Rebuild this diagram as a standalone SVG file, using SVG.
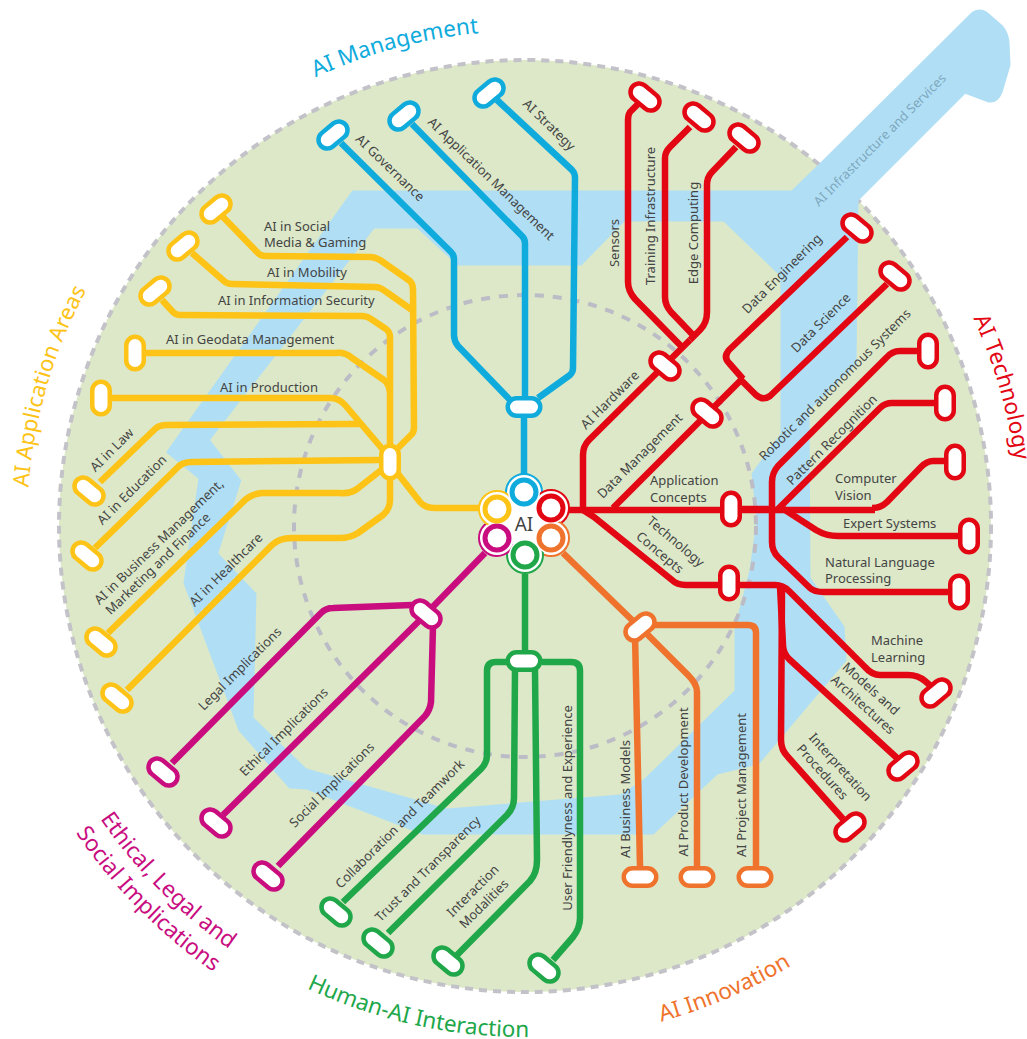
<svg xmlns="http://www.w3.org/2000/svg" width="1027" height="1039" viewBox="0 0 1027 1039">
<style>
.c{fill:none;stroke-width:6.5;stroke-linejoin:round;stroke-linecap:butt}
.cap{fill:#fff;stroke-width:4.5}
.ring{fill:#fff;stroke-width:5}
.outer{fill:#fff;stroke-width:2}
.bl{stroke:#10abdd}.re{stroke:#e30613}.ye{stroke:#fdc316}.or{stroke:#ef732c}.gr{stroke:#20a74a}.ma{stroke:#c90d7f}
text{font-family:"Noto Sans","Open Sans","Liberation Sans",sans-serif;font-size:13px;fill:#444;text-anchor:middle}
.l{text-anchor:start}
.t{font-size:22.5px}
</style>
<defs>
<rect id="cap" x="-16.25" y="-8.75" width="32.5" height="17.5" rx="8.75"/>
<path id="arc-app" d="M68.8 725.8A498 498 0 0 1 249 111.5"/>
<path id="arc-man" d="M118.6 243.4A495 495 0 0 1 732.7 76.6"/>
<path id="arc-tec" d="M799.5 115.2A494 494 0 0 1 977.2 724.9"/>
<path id="arc-inn" d="M377.3 1018.3A514 514 0 0 0 984.2 757"/>
<path id="arc-hum" d="M120.1 837.8A511 511 0 0 0 761.7 978.8"/>
<path id="arc-eth1" d="M10.8 569.2A516 516 0 0 0 478.2 1039.9"/>
<path id="arc-eth2" d="M-17.2 570.6A544 544 0 0 0 474.7 1067.7"/>
</defs>
<g id="background">
<circle cx="525" cy="526" r="466" fill="#dce8c8" stroke="#c2c2c8" stroke-width="4" stroke-dasharray="8 6"/>
<path d="M820 165L973 13Q980 9 986 13L1002 27Q1007 33 1008 42L1009 65L1001 92Q997 102 989 101L965 92L857 200L855 363L808 410L809 578L843 627L845 660L758 763L717 773L653 833L423 833L307 788L290 787L240 730L185 583L200 478L168 452L353 192L792 192Z" fill="#b0dff5" stroke="#b0dff5" stroke-width="3" stroke-linejoin="round"/>
<path d="M723 223L779 277L779 433L750 473L755 520L748 570L733 628L733 690L643 778L620 793L447 807L307 767L255 717L258 593L220 553L243 480L212 440L375 230L417 230L457 267L582 267L625 223Z" fill="#dce8c8" stroke="#dce8c8" stroke-width="3" stroke-linejoin="round"/>
<circle cx="525" cy="526" r="231" fill="none" stroke="#bcbcc6" stroke-width="4" stroke-dasharray="9 9"/>
</g>
<g id="connectors">
<g class="bl">
<path class="c" d="M524 407V480"/>
<path class="c" d="M497 100L572 170Q575 173 575 178L573 368Q573 372 570 375L538 398"/>
<path class="c" d="M412 124L522 236Q525 239 525 243V400"/>
<path class="c" d="M341 143L451 252Q454 255 454 259V335Q454 341 458 346L512 402"/>
</g>
<g class="ye">
<path class="c" d="M223 217L257 252Q260 256 266 256L370 257Q375 257 380 260L410 281Q413 284 413 290L414 428Q414 433 410 436L396 450"/>
<path class="c" d="M192 253L224 281Q227 284 232 284L375 287Q380 287 385 291L412 310"/>
<path class="c" d="M162 300L173 312Q176 315 180 315L362 316Q367 316 371 319L386 329Q390 332 390 337V450"/>
<path class="c" d="M145 353H336Q345 352 352 358L384 380Q389 384 390 392"/>
<path class="c" d="M110 398H330Q339 398 345 405L385 452"/>
<path class="c" d="M100 482L155 429Q159 425 167 425L355 424L360 424"/>
<path class="c" d="M95 548L177 468Q182 462 192 462L380 460"/>
<path class="c" d="M108 633L243 502Q250 494 262 493L340 493Q350 494 357 489L385 467"/>
<path class="c" d="M127 690L272 545Q279 538 292 538H340Q350 538 358 533L383 515Q390 509 390 500V470"/>
<path class="c" d="M395 470L420 502Q425 508 435 508H482"/>
</g>
<g class="re">
<path class="c" d="M569 510H875"/>
<path class="c" d="M731 509H772" stroke-width="8"/>
<path class="c" d="M583 508V455Q583 446 589 440L690 340"/>
<path class="c" d="M690 340L700 330Q707 323 707 312V185Q707 177 712 172L736 147"/>
<path class="c" d="M693 335L671 312Q665 305 665 297V158Q665 152 670 147L690 127"/>
<path class="c" d="M682 347L635 299Q628 291 628 282V120Q628 113 632 110L638 104"/>
<path class="c" d="M613 508L741 380"/>
<path class="c" d="M847 237L729 350Q723 357 729 363L743 379"/>
<path class="c" d="M887 284L770 396Q763 401 756 395L740 379"/>
<path class="c" d="M918 351H900Q892 351 886 358L778 466Q772 473 772 482V542Q772 551 778 557L810 588Q814 592 824 592H948"/>
<path class="c" d="M935 403H892Q885 403 880 408L777 510"/>
<path class="c" d="M945 461H933Q927 461 921 467L887 502Q881 508 872 508"/>
<path class="c" d="M958 536H838Q826 536 816 530L782 508"/>
<path class="c" d="M583 510L594 517L672 580Q677 585 686 585H775Q783 585 789 591L865 667Q872 675 880 675H908Q918 675 925 681L932 687"/>
<path class="c" d="M780 586L783 645Q783 653 789 659L897 758"/>
<path class="c" d="M782 590L781 740Q781 750 788 757L843 819"/>
</g>
<g class="or">
<path class="c" d="M563 553L632 620"/>
<path class="c" d="M648 625H748Q756 625 756 633V866"/>
<path class="c" d="M645 632L688 675Q697 684 697 692V866"/>
<path class="c" d="M635 635L640 866"/>
</g>
<g class="gr">
<path class="c" d="M525 574V652"/>
<path class="c" d="M510 662H496Q487 662 487 671V755Q487 763 481 769L343 902"/>
<path class="c" d="M515 670L514 798Q514 808 507 815L388 933"/>
<path class="c" d="M535 670L537 860Q537 873 530 881L457 955"/>
<path class="c" d="M542 662H571Q580 662 580 671V918Q580 928 573 937L553 960"/>
</g>
<g class="ma">
<path class="c" d="M485 553L420 620"/>
<path class="c" d="M412 605L333 608Q326 608 321 613L172 763"/>
<path class="c" d="M420 620L223 815"/>
<path class="c" d="M433 626L431 702Q430 710 425 716L278 866"/>
</g>
</g>
<g id="node-ai">
<circle class="outer bl" cx="524" cy="492" r="18"/><circle class="outer re" cx="551" cy="508" r="18"/><circle class="outer or" cx="551" cy="538" r="18"/><circle class="outer gr" cx="525" cy="555" r="18"/><circle class="outer ma" cx="497" cy="538" r="18"/><circle class="outer ye" cx="497" cy="509" r="18"/>
<circle cx="524" cy="492" r="16" fill="#fff"/><circle cx="551" cy="508" r="16" fill="#fff"/><circle cx="551" cy="538" r="16" fill="#fff"/><circle cx="525" cy="555" r="16" fill="#fff"/><circle cx="497" cy="538" r="16" fill="#fff"/><circle cx="497" cy="509" r="16" fill="#fff"/><circle cx="524" cy="523" r="24" fill="#fff"/>
<circle class="ring bl" cx="524" cy="492" r="12"/><circle class="ring re" cx="551" cy="508" r="12"/><circle class="ring or" cx="551" cy="538" r="12"/><circle class="ring gr" cx="525" cy="555" r="12"/><circle class="ring ma" cx="497" cy="538" r="12"/><circle class="ring ye" cx="497" cy="509" r="12"/>
<text x="524" y="531" style="font-size:19px">AI</text>
</g>
<g id="node-management-hub"><use href="#cap" class="cap bl" transform="translate(524 407)"/></g>
<g id="node-ai-strategy"><use href="#cap" class="cap bl" transform="translate(489 93) rotate(-40)"/><text transform="translate(546 128) rotate(44)">AI Strategy</text></g>
<g id="node-ai-application-management"><use href="#cap" class="cap bl" transform="translate(404 116) rotate(-40)"/><text transform="translate(488 182) rotate(44)">AI Application Management</text></g>
<g id="node-ai-governance"><use href="#cap" class="cap bl" transform="translate(333 135) rotate(-40)"/><text transform="translate(387 171) rotate(44)">AI Governance</text></g>
<g id="node-application-hub"><use href="#cap" class="cap ye" transform="translate(390 462) rotate(90)"/></g>
<g id="node-social"><use href="#cap" class="cap ye" transform="translate(216 209) rotate(-40)"/><text class="l" x="264" y="231">AI in Social</text><text class="l" x="264" y="247">Media &amp; Gaming</text></g>
<g id="node-mobility"><use href="#cap" class="cap ye" transform="translate(183 246) rotate(-40)"/><text class="l" x="267" y="277">AI in Mobility</text></g>
<g id="node-infosec"><use href="#cap" class="cap ye" transform="translate(155 291) rotate(-40)"/><text class="l" x="218" y="305">AI in Information Security</text></g>
<g id="node-geodata"><use href="#cap" class="cap ye" transform="translate(135 353) rotate(90)"/><text class="l" x="166" y="344">AI in Geodata Management</text></g>
<g id="node-production"><use href="#cap" class="cap ye" transform="translate(101 398) rotate(90)"/><text class="l" x="220" y="392">AI in Production</text></g>
<g id="node-law"><use href="#cap" class="cap ye" transform="translate(89 491) rotate(40)"/><text transform="translate(115 453) rotate(-45)">AI in Law</text></g>
<g id="node-education"><use href="#cap" class="cap ye" transform="translate(87 556) rotate(40)"/><text transform="translate(135 493) rotate(-45)">AI in Education</text></g>
<g id="node-business"><use href="#cap" class="cap ye" transform="translate(101 642) rotate(40)"/><text transform="translate(162 545) rotate(-44)">AI in Business Management,</text><text transform="translate(161 567) rotate(-44)">Marketing and Finance</text></g>
<g id="node-healthcare"><use href="#cap" class="cap ye" transform="translate(117 698) rotate(40)"/><text transform="translate(229 573) rotate(-45)">AI in Healthcare</text></g>
<g id="node-hardware"><use href="#cap" class="cap re" transform="translate(665 366) rotate(40)"/><text transform="translate(613 403) rotate(-45)">AI Hardware</text></g>
<g id="node-sensors"><use href="#cap" class="cap re" transform="translate(645 97) rotate(40)"/><text transform="translate(619 243) rotate(-90)">Sensors</text></g>
<g id="node-training"><use href="#cap" class="cap re" transform="translate(699 117) rotate(40)"/><text transform="translate(655 216) rotate(-90)">Training Infrastructure</text></g>
<g id="node-edge"><use href="#cap" class="cap re" transform="translate(744 138) rotate(40)"/><text transform="translate(698 233) rotate(-90)">Edge Computing</text></g>
<g id="node-data-management"><use href="#cap" class="cap re" transform="translate(707 413) rotate(40)"/><text transform="translate(643 459) rotate(-45)">Data Management</text></g>
<g id="node-data-engineering"><use href="#cap" class="cap re" transform="translate(857 228) rotate(40)"/><text transform="translate(785 277) rotate(-45)">Data Engineering</text></g>
<g id="node-data-science"><use href="#cap" class="cap re" transform="translate(895 276) rotate(40)"/><text transform="translate(824 326) rotate(-45)">Data Science</text></g>
<g id="node-robotic"><use href="#cap" class="cap re" transform="translate(928 351) rotate(90)"/><text transform="translate(838 388) rotate(-45)">Robotic and autonomous Systems</text></g>
<g id="node-pattern"><use href="#cap" class="cap re" transform="translate(945 403) rotate(90)"/><text transform="translate(835 443) rotate(-45)">Pattern Recognition</text></g>
<g id="node-application-concepts"><use href="#cap" class="cap re" transform="translate(731 509) rotate(90)"/><text class="l" x="650" y="485">Application</text><text class="l" x="650" y="502">Concepts</text></g>
<g id="node-vision"><use href="#cap" class="cap re" transform="translate(955 462) rotate(90)"/><text class="l" x="835" y="483">Computer</text><text class="l" x="835" y="500">Vision</text></g>
<g id="node-expert"><use href="#cap" class="cap re" transform="translate(969 536) rotate(90)"/><text class="l" x="843" y="528">Expert Systems</text></g>
<g id="node-nlp"><use href="#cap" class="cap re" transform="translate(959 592) rotate(90)"/><text class="l" x="825" y="567">Natural Language</text><text class="l" x="825" y="583">Processing</text></g>
<g id="node-technology-concepts"><use href="#cap" class="cap re" transform="translate(729 583) rotate(90)"/><text transform="translate(673 545) rotate(40)">Technology</text><text transform="translate(657 556) rotate(40)">Concepts</text></g>
<g id="node-ml"><use href="#cap" class="cap re" transform="translate(936 693) rotate(-40)"/><text class="l" x="871" y="645">Machine</text><text class="l" x="871" y="662">Learning</text></g>
<g id="node-models"><use href="#cap" class="cap re" transform="translate(903 766) rotate(-40)"/><text transform="translate(868 692) rotate(42)">Models and</text><text transform="translate(860 708) rotate(42)">Architectures</text></g>
<g id="node-interpretation"><use href="#cap" class="cap re" transform="translate(850 827) rotate(-40)"/><text transform="translate(837 770) rotate(48)">Interpretation</text><text transform="translate(819 775) rotate(48)">Procedures</text></g>
<g id="node-innovation-hub"><use href="#cap" class="cap or" transform="translate(640 627) rotate(-40)"/></g>
<g id="node-business-models"><use href="#cap" class="cap or" transform="translate(640 877)"/><text transform="translate(630 799) rotate(-90)">AI Business Models</text></g>
<g id="node-product"><use href="#cap" class="cap or" transform="translate(697 877)"/><text transform="translate(688 782) rotate(-90)">AI Product Development</text></g>
<g id="node-project"><use href="#cap" class="cap or" transform="translate(755 877)"/><text transform="translate(746 785) rotate(-90)">AI Project Management</text></g>
<g id="node-interaction-hub"><use href="#cap" class="cap gr" transform="translate(524 661)"/></g>
<g id="node-collab"><use href="#cap" class="cap gr" transform="translate(336 912) rotate(40)"/><text transform="translate(403 827) rotate(-45)">Collaboration and Teamwork</text></g>
<g id="node-trust"><use href="#cap" class="cap gr" transform="translate(378 943) rotate(40)"/><text transform="translate(431 872) rotate(-45)">Trust and Transparency</text></g>
<g id="node-interaction"><use href="#cap" class="cap gr" transform="translate(448 961) rotate(40)"/><text transform="translate(476 894) rotate(-45)">Interaction</text><text transform="translate(487 907) rotate(-45)">Modalities</text></g>
<g id="node-user"><use href="#cap" class="cap gr" transform="translate(544 968) rotate(40)"/><text transform="translate(572 808) rotate(-90)">User Friendlyness and Experience</text></g>
<g id="node-ethics-hub"><use href="#cap" class="cap ma" transform="translate(426 614) rotate(40)"/></g>
<g id="node-legal"><use href="#cap" class="cap ma" transform="translate(163 772) rotate(40)"/><text transform="translate(243 672) rotate(-45)">Legal Implications</text></g>
<g id="node-ethical"><use href="#cap" class="cap ma" transform="translate(216 823) rotate(40)"/><text transform="translate(287 735) rotate(-45)">Ethical Implications</text></g>
<g id="node-social-impl"><use href="#cap" class="cap ma" transform="translate(268 876) rotate(40)"/><text transform="translate(335 788) rotate(-45)">Social Implications</text></g>
<g id="titles">
<text transform="translate(883 143) rotate(-45)" style="fill:#7ea7bf">AI Infrastructure and Services</text>
<text class="t" style="fill:#10abdd"><textPath href="#arc-man" startOffset="50%">AI Management</textPath></text>
<text class="t" style="fill:#e30613"><textPath href="#arc-tec" startOffset="50%">AI Technology</textPath></text>
<text class="t" style="fill:#ef732c"><textPath href="#arc-inn" startOffset="50%">AI Innovation</textPath></text>
<text class="t" style="fill:#20a74a"><textPath href="#arc-hum" startOffset="50%">Human-AI Interaction</textPath></text>
<text class="t" style="fill:#c90d7f"><textPath href="#arc-eth1" startOffset="50%">Ethical, Legal and</textPath></text>
<text class="t" style="fill:#c90d7f"><textPath href="#arc-eth2" startOffset="50%">Social Implications</textPath></text>
<text class="t" style="fill:#fdc316;font-size:22px"><textPath href="#arc-app" startOffset="50%">AI Application Areas</textPath></text>
</g>
</svg>
